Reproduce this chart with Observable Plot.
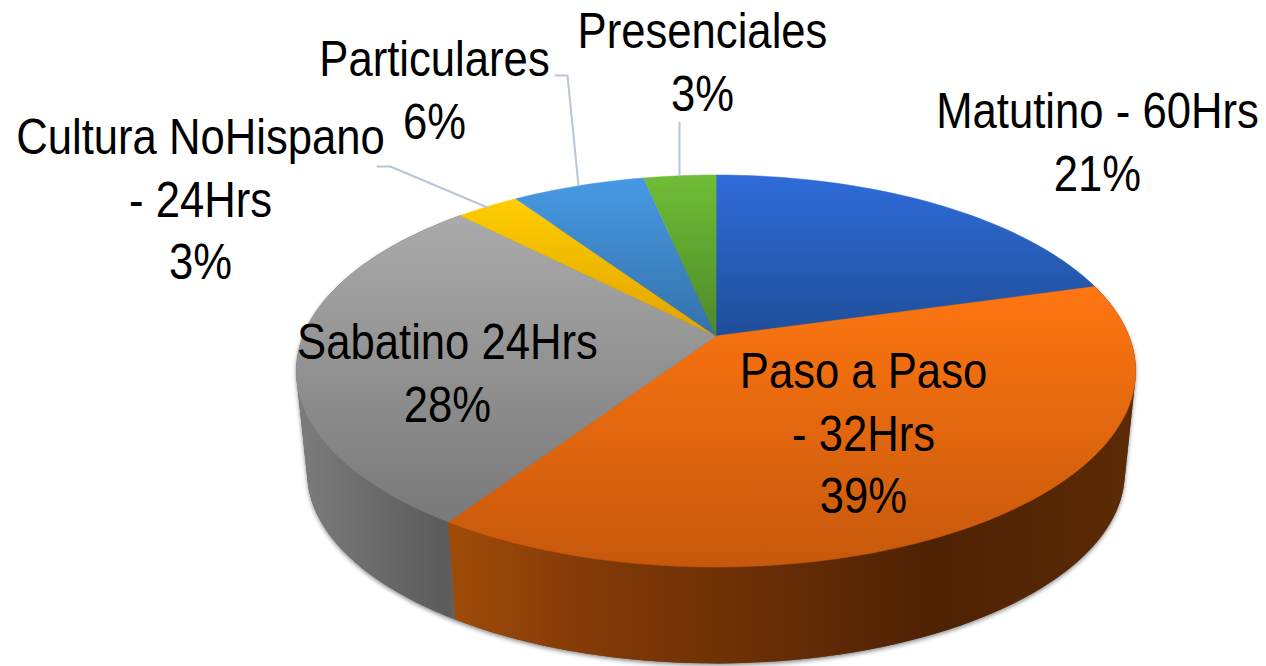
<!DOCTYPE html>
<html>
<head>
<meta charset="utf-8">
<style>html,body{margin:0;padding:0;background:#fff}svg{display:block}</style>
<script src="https://cdn.jsdelivr.net/npm/d3@7"></script>
<script src="https://cdn.jsdelivr.net/npm/@observablehq/plot@0.6"></script>
</head>
<body>
<div id="chart"></div>
<script>
const categories = ["Matutino - 60Hrs","Paso a Paso\n- 32Hrs","Sabatino 24Hrs","Cultura NoHispano\n- 24Hrs","Particulares","Presenciales"];
const shares = [20.6, 38.7, 28.4, 2.9, 6.1, 3.3];
const percentLabels = ["21%","39%","28%","3%","6%","3%"];

const faceColors = [["#2f6cda","#1f4e99"],["#ff7611","#c6580c"],["#aaaaaa","#797979"],["#ffcd00","#dfa300"],["#4799e4","#3472aa"],["#6fbd37","#4e8a28"]];
const wallStops = {
  1: [[0,"#a04c08"],[0.2,"#833a07"],[0.4,"#6f3106"],[0.7,"#4f2204"],[1,"#5c2b06"]],
  2: [[0,"#7c7c7c"],[0.88,"#5b5b5b"],[1,"#6a6a6a"]]
};
const labelX = [1097,863,447,200,434,702];
const labelY = [139,430,370,196,87,59];
const leaders = [
  {id:"c",x:377,y:166},{id:"c",x:390,y:166},{id:"c",x:487,y:207},
  {id:"p",x:555,y:75},{id:"p",x:567,y:75},{id:"p",x:578,y:185},
  {id:"r",x:679,y:122},{id:"r",x:679,y:175}
];

// perspective view of the pie plane
const cx=715.5, cy=335.5, a=413, b=189.75, k=0.1786, ellY=371, floorScale=0.974, floorY=472.5;
function topPt(f){
  const t=f/100*2*Math.PI, u=Math.sin(t), v=-Math.cos(t), w=1-k*v;
  return [cx+a*u/w, cy+b*v/w];
}
function floorPt(f){
  const [x,y]=topPt(f);
  return [cx+(x-cx)*floorScale, (y-ellY)*floorScale+floorY];
}
function arc(fn,f0,f1){
  const n=Math.max(4,Math.ceil((f1-f0)*2));
  return d3.range(n+1).map(i=>fn(f0+(f1-f0)*i/n));
}
let acc=0;
const slices=shares.map((s,i)=>{const o={i,f0:acc,f1:acc+s};acc+=s;return o;});

const face=d=>[[cx,cy],...arc(topPt,d.f0,d.f1)];
const wall=d=>d3.polygonHull([...arc(topPt,d.f0,d.f1),...arc(floorPt,d.f0,d.f1)]);
const outline=wall({f0:slices[1].f0,f1:slices[2].f1});

const defs=()=>{
  const g=d3.create("svg:defs");
  faceColors.forEach((c,i)=>{
    const lg=g.append("linearGradient").attr("id","face"+i).attr("x1",0).attr("y1",0).attr("x2",0).attr("y2",1);
    lg.append("stop").attr("offset",0).attr("stop-color",c[0]);
    lg.append("stop").attr("offset",1).attr("stop-color",c[1]);
  });
  Object.entries(wallStops).forEach(([i,st])=>{
    const lg=g.append("linearGradient").attr("id","wall"+i).attr("x1",0).attr("y1",0).attr("x2",1).attr("y2",0);
    st.forEach(([o,c])=>lg.append("stop").attr("offset",o).attr("stop-color",c));
  });
  return g.node();
};

const shadow=(index,scales,values,dims,ctx,next)=>{
  const g=next(index,scales,values,dims,ctx);
  g.style.filter="drop-shadow(0px 2px 2px rgba(0,0,0,0.45))";
  return g;
};
const condensed=(index,scales,values,dims,ctx,next)=>{
  const g=next(index,scales,values,dims,ctx);
  g.querySelectorAll("text").forEach(t=>t.setAttribute("transform",(t.getAttribute("transform")||"")+" scale(0.873,1)"));
  return g;
};

const px=d=>d[0], py=d=>d[1];
const marks=[defs];
marks.push(Plot.line(outline,{x:px,y:py,fill:"#5b5b5b",stroke:"none",curve:"linear-closed",render:shadow}));
[2,1].forEach(i=>{
  marks.push(Plot.line(wall(slices[i]),{x:px,y:py,fill:`url(#wall${i})`,stroke:"none",curve:"linear-closed"}));
});
slices.forEach(d=>{
  marks.push(Plot.line(face(d),{x:px,y:py,fill:`url(#face${d.i})`,stroke:`url(#face${d.i})`,strokeWidth:0.5,curve:"linear-closed"}));
});
marks.push(Plot.line(leaders,{x:"x",y:"y",z:"id",stroke:"#b9c5d6",strokeWidth:2,curve:"linear"}));
marks.push(Plot.text(categories.map((c,i)=>({t:c+"\n"+percentLabels[i],x:labelX[i],y:labelY[i]})),{
  x:"x",y:"y",text:"t",fontSize:50,lineHeight:1.25,textAnchor:"middle",lineAnchor:"middle",
  fontFamily:"Liberation Sans",fill:"#000",render:condensed
}));

const plot=Plot.plot({
  width:1266,height:666,margin:0,
  x:{domain:[0,1266],range:[0,1266],axis:null},
  y:{domain:[0,666],range:[0,666],axis:null},
  style:{background:"#fff",overflow:"visible"},
  marks
});
document.getElementById("chart").append(plot);
</script>
</body>
</html>
